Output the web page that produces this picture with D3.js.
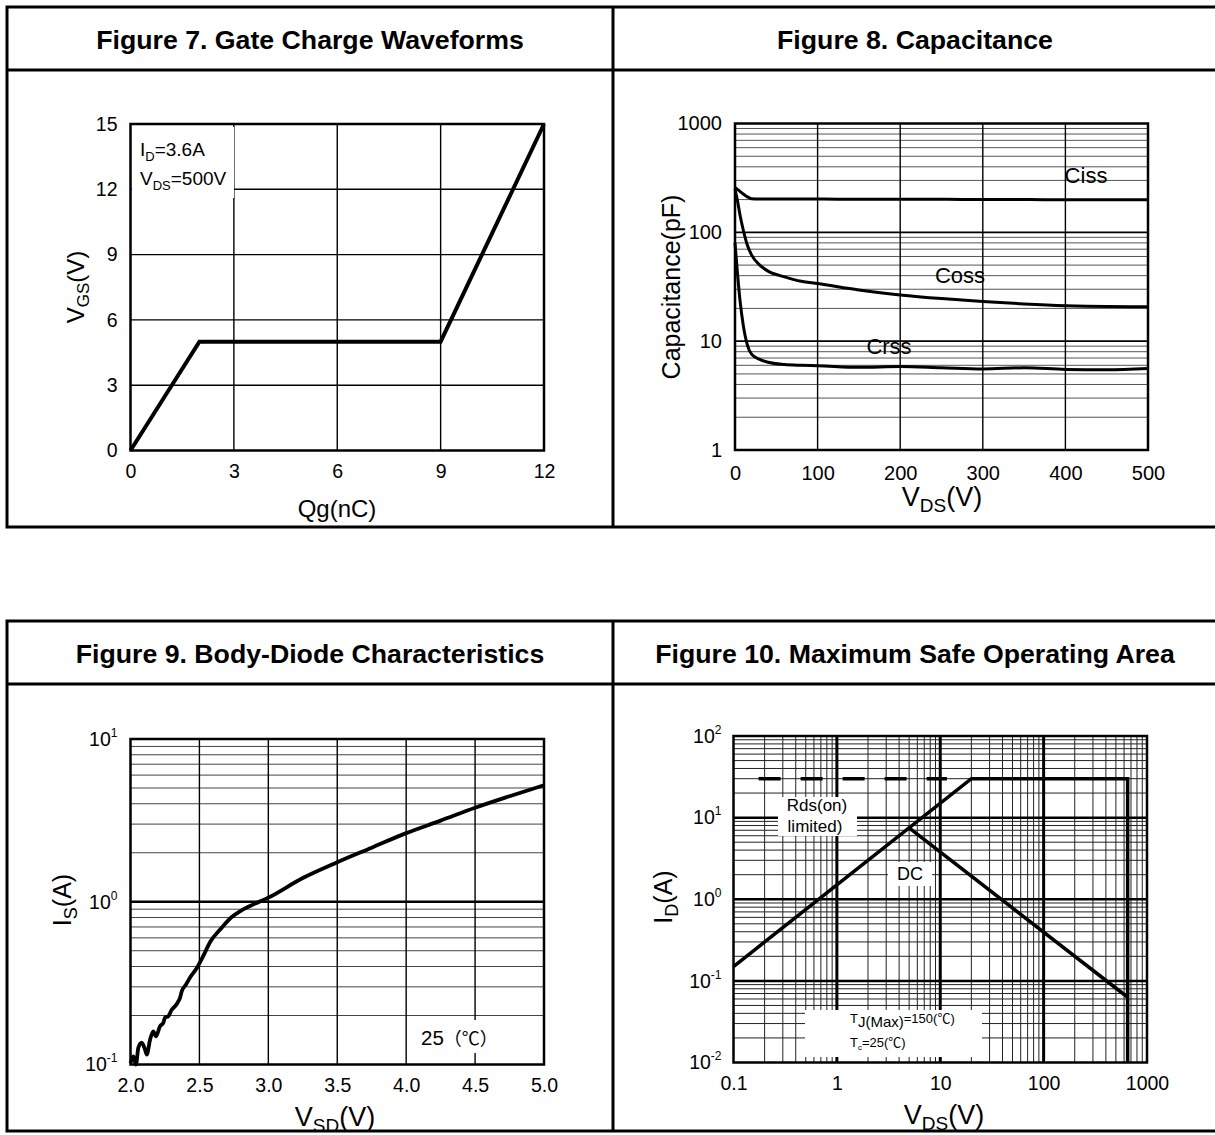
<!DOCTYPE html>
<html>
<head>
<meta charset="utf-8">
<script src="https://cdn.jsdelivr.net/npm/d3@7"></script>
<style>
  body { margin: 0; background: #fff; }
  svg { display: block; }
</style>
</head>
<body>
<svg id="chart" width="1215" height="1135"></svg>
<script>
// panel titles
const figureTitles = [
    "Figure 7. Gate Charge Waveforms",
    "Figure 8. Capacitance",
    "Figure 9. Body-Diode Characteristics",
    "Figure 10. Maximum Safe Operating Area"
];

// figure 7: gate charge
const gateQ = [0, 2, 9, 12];
const gateV = [0, 5, 5, 15];
const gateXTicks = [0, 3, 6, 9, 12];
const gateYTicks = [0, 3, 6, 9, 12, 15];

// figure 8: capacitance vs vds
const capVds = [0, 3, 6, 10, 15, 20, 30, 40, 60, 80, 100, 150, 200, 250, 300, 350, 400, 450, 500];
const ciss = [258, 248, 238, 225, 212, 204, 202, 202, 202, 202, 202, 201, 201, 201, 200, 200, 199, 199, 199];
const coss = [250, 195, 145, 105, 76, 62, 50, 44, 39, 35.5, 33.8, 29.5, 26.6, 24.6, 23.1, 22, 21.2, 20.8, 20.7];
const crss = [80, 42, 24, 14, 9.2, 7.6, 6.8, 6.4, 6.1, 6.0, 5.95, 5.75, 5.85, 5.7, 5.55, 5.7, 5.5, 5.45, 5.6];
const capXTicks = [0, 100, 200, 300, 400, 500];
const capYTicks = [1, 10, 100, 1000];

// figure 9: body diode
const diodeV = [2.0, 2.02, 2.04, 2.057, 2.081, 2.105, 2.118, 2.142, 2.165, 2.185, 2.214, 2.238, 2.25, 2.274,
    2.299, 2.323, 2.34, 2.359, 2.372, 2.403, 2.43, 2.48, 2.52, 2.58, 2.66, 2.73, 2.8, 2.9, 3.0, 3.25, 3.5,
    3.75, 4.0, 4.25, 4.5, 4.75, 5.0];
const diodeI = [0.102, 0.112, 0.1, 0.127, 0.136, 0.124, 0.115, 0.142, 0.16, 0.149, 0.172, 0.18, 0.194, 0.198,
    0.217, 0.228, 0.239, 0.257, 0.282, 0.31, 0.34, 0.39, 0.45, 0.57, 0.69, 0.8, 0.88, 0.97, 1.06, 1.4, 1.75,
    2.15, 2.64, 3.15, 3.78, 4.45, 5.2];
const diodeXTicks = [2.0, 2.5, 3.0, 3.5, 4.0, 4.5, 5.0];
const diodeYExp = [-1, 0, 1];

// figure 10: safe operating area
const soaV = [0.1, 20, 650, 650];
const soaI = [0.15, 30, 30, 0.01];
const dcV = [5, 650];
const dcI = [7.5, 0.063];
const rdsV = [0.175, 11.6];
const rdsI = [30, 30];
const soaXTicks = [0.1, 1, 10, 100, 1000];
const soaYExp = [-2, -1, 0, 1, 2];

const FONT = '"Liberation Sans", Arial, Helvetica, sans-serif';
const CJK = '"Noto Sans CJK SC", "Liberation Sans", sans-serif';
const svg = d3.select("#chart").attr("font-family", FONT);

// minor log grid values (2..9 per decade)
function logMinor(lo, hi) {
    const out = [];
    for (let d = Math.round(Math.log10(lo)); d < Math.round(Math.log10(hi)); d++) {
        for (let k = 2; k <= 9; k++) out.push(k * Math.pow(10, d));
    }
    return out;
}

// text made of parts [text, size, dy, family]
function richText(g, x, y, parts, opts = {}) {
    const t = g.append("text")
        .attr("x", x).attr("y", y)
        .attr("text-anchor", opts.anchor || "middle")
        .attr("fill", "#000");
    if (opts.rotate) t.attr("transform", `rotate(-90,${x},${y})`);
    parts.forEach(p => {
        const s = t.append("tspan").attr("font-size", p[1]).text(p[0]);
        if (p[2]) s.attr("dy", p[2]);
        if (p[3]) s.attr("font-family", p[3]);
    });
    return t;
}

function styleAxis(g, size) {
    g.select(".domain").remove();
    g.selectAll(".tick line").remove();
    g.selectAll("text").attr("font-size", size).attr("font-family", FONT).attr("fill", "#000");
}

function powerLabels(g) {
    g.selectAll(".tick text").each(function (d) {
        const t = d3.select(this).text(null);
        t.append("tspan").text("10");
        t.append("tspan").attr("font-size", 12).attr("dy", "-0.75em").text(d);
    });
}

function hLines(g, y, vals, x0, x1, w, c) {
    g.selectAll(null).data(vals).enter().append("line")
        .attr("x1", x0).attr("x2", x1)
        .attr("y1", d => y(d)).attr("y2", d => y(d))
        .attr("stroke", c).attr("stroke-width", w);
}

function vLines(g, x, vals, y0, y1, w, c) {
    g.selectAll(null).data(vals).enter().append("line")
        .attr("y1", y0).attr("y2", y1)
        .attr("x1", d => x(d)).attr("x2", d => x(d))
        .attr("stroke", c).attr("stroke-width", w);
}

function whiteBox(g, x0, y0, x1, y1) {
    g.append("rect").attr("x", x0).attr("y", y0)
        .attr("width", x1 - x0).attr("height", y1 - y0).attr("fill", "#fff");
}

function border(g, x, y) {
    g.append("rect")
        .attr("x", x.range()[0]).attr("y", y.range()[1])
        .attr("width", x.range()[1] - x.range()[0])
        .attr("height", y.range()[0] - y.range()[1])
        .attr("fill", "none").attr("stroke", "#000").attr("stroke-width", 2.5);
}

// frames and titles
function frame(y0, y1, yHead, t1, t2, tY) {
    const g = svg.append("g");
    g.append("rect").attr("x", 7).attr("y", y0).attr("width", 1225).attr("height", y1 - y0)
        .attr("fill", "none").attr("stroke", "#000").attr("stroke-width", 3);
    g.append("line").attr("x1", 7).attr("x2", 1232).attr("y1", yHead).attr("y2", yHead)
        .attr("stroke", "#000").attr("stroke-width", 3);
    g.append("line").attr("x1", 613).attr("x2", 613).attr("y1", y0).attr("y2", y1)
        .attr("stroke", "#000").attr("stroke-width", 3);
    [[310, t1], [915, t2]].forEach(([cx, txt]) => {
        g.append("text").attr("x", cx).attr("y", tY)
            .attr("text-anchor", "middle").attr("font-size", 26.7).attr("font-weight", "bold")
            .text(txt);
    });
}
frame(7, 527, 70, figureTitles[0], figureTitles[1], 49);
frame(621, 1131, 684, figureTitles[2], figureTitles[3], 663);

// figure 7
(function () {
    const g = svg.append("g");
    const x = d3.scaleLinear().domain([0, 12]).range([130.5, 544]);
    const y = d3.scaleLinear().domain([0, 15]).range([450.5, 124]);
    vLines(g, x, [3, 6, 9], y(15), y(0), 1.4, "#000");
    hLines(g, y, [3, 6, 9, 12], x(0), x(12), 1.4, "#000");
    whiteBox(g, 132, 127, 234, 198);
    richText(g, 140, 156, [["I", 19], ["D", 13, 5], ["=3.6A", 19, -5]], { anchor: "start" });
    richText(g, 140, 185, [["V", 19], ["DS", 13, 5], ["=500V", 19, -5]], { anchor: "start" });
    border(g, x, y);
    g.append("path")
        .datum(d3.zip(gateQ, gateV))
        .attr("d", d3.line().x(d => x(d[0])).y(d => y(d[1])))
        .attr("fill", "none").attr("stroke", "#000").attr("stroke-width", 4)
        .attr("stroke-linejoin", "miter");
    const ax = g.append("g").attr("transform", `translate(0,${y(0)})`)
        .call(d3.axisBottom(x).tickValues(gateXTicks).tickSize(0).tickPadding(14));
    styleAxis(ax, 19.5);
    const ay = g.append("g").attr("transform", `translate(${x(0)},0)`)
        .call(d3.axisLeft(y).tickValues(gateYTicks).tickSize(0).tickPadding(13));
    styleAxis(ay, 19.5);
    richText(g, 337, 517, [["Qg(nC)", 24]]);
    richText(g, 84, 287, [["V", 24], ["GS", 17, 5], ["(V)", 24, -5]], { rotate: true });
})();

// figure 8
(function () {
    const g = svg.append("g");
    const x = d3.scaleLinear().domain([0, 500]).range([735, 1148]);
    const y = d3.scaleLog().domain([1, 1000]).range([450, 123.5]);
    hLines(g, y, logMinor(1, 1000), x(0), x(500), 1, "#555");
    hLines(g, y, [10, 100], x(0), x(500), 1.6, "#000");
    vLines(g, x, [100, 200, 300, 400], y(1000), y(1), 1.4, "#000");
    border(g, x, y);
    const line = d3.line().x(d => x(d[0])).y(d => y(d[1])).curve(d3.curveMonotoneX);
    [ciss, coss, crss].forEach(s => {
        g.append("path").datum(d3.zip(capVds, s)).attr("d", line)
            .attr("fill", "none").attr("stroke", "#000").attr("stroke-width", 3);
    });
    richText(g, 1086, 183, [["Ciss", 22]]);
    richText(g, 960, 283, [["Coss", 22]]);
    richText(g, 889, 354, [["Crss", 22]]);
    const ax = g.append("g").attr("transform", `translate(0,${y(1)})`)
        .call(d3.axisBottom(x).tickValues(capXTicks).tickSize(0).tickPadding(16));
    styleAxis(ax, 20);
    const ay = g.append("g").attr("transform", `translate(${x(0)},0)`)
        .call(d3.axisLeft(y).tickValues(capYTicks).tickFormat(d3.format("d")).tickSize(0).tickPadding(13));
    styleAxis(ay, 20);
    richText(g, 942, 506, [["V", 27], ["DS", 19, 6], ["(V)", 27, -6]]);
    richText(g, 680, 287, [["Capacitance(pF)", 25]], { rotate: true });
})();

// figure 9
(function () {
    const g = svg.append("g");
    const x = d3.scaleLinear().domain([2, 5]).range([130.5, 544]);
    const y = d3.scaleLog().domain([0.1, 10]).range([1064.5, 739]);
    hLines(g, y, logMinor(0.1, 10), x(2), x(5), 1, "#444");
    hLines(g, y, [1], x(2), x(5), 2.5, "#000");
    vLines(g, x, [2.5, 3.0, 3.5, 4.0, 4.5], y(10), y(0.1), 1.4, "#000");
    whiteBox(g, 410, 1020, 505, 1053);
    richText(g, 421, 1045, [["25", 20.5], ["（℃）", 18, 0, CJK]], { anchor: "start" });
    border(g, x, y);
    g.append("path").datum(d3.zip(diodeV, diodeI))
        .attr("d", d3.line().x(d => x(d[0])).y(d => y(d[1])).curve(d3.curveMonotoneX))
        .attr("fill", "none").attr("stroke", "#000").attr("stroke-width", 3.8)
        .attr("stroke-linejoin", "round");
    const ax = g.append("g").attr("transform", `translate(0,${y(0.1)})`)
        .call(d3.axisBottom(x).tickValues(diodeXTicks).tickFormat(d3.format(".1f")).tickSize(0).tickPadding(14));
    styleAxis(ax, 19.5);
    const yExp = d3.scaleLinear().domain([-1, 1]).range([y(0.1), y(10)]);
    const ay = g.append("g").attr("transform", `translate(${x(2)},0)`)
        .call(d3.axisLeft(yExp).tickValues(diodeYExp).tickFormat(d => d).tickSize(0).tickPadding(13));
    styleAxis(ay, 19.5);
    powerLabels(ay);
    richText(g, 335, 1126, [["V", 27], ["SD", 19, 6], ["(V)", 27, -6]]);
    richText(g, 71, 900, [["I", 25], ["S", 18, 6], ["(A)", 25, -6]], { rotate: true });
})();

// figure 10
(function () {
    const g = svg.append("g");
    const x = d3.scaleLog().domain([0.1, 1000]).range([733.5, 1147]);
    const y = d3.scaleLog().domain([0.01, 100]).range([1062.5, 736]);
    hLines(g, y, logMinor(0.01, 100), x(0.1), x(1000), 1, "#222");
    vLines(g, x, logMinor(0.1, 1000), y(100), y(0.01), 1, "#222");
    hLines(g, y, [0.1, 1, 10], x(0.1), x(1000), 2.5, "#000");
    vLines(g, x, [1, 10, 100], y(100), y(0.01), 3, "#000");
    whiteBox(g, 778, 797, 857, 836);
    whiteBox(g, 888, 862, 932, 886);
    whiteBox(g, 805, 1010, 982, 1057);
    border(g, x, y);
    const line = d3.line().x(d => x(d[0])).y(d => y(d[1]));
    g.append("path").datum(d3.zip(rdsV, rdsI)).attr("d", line)
        .attr("fill", "none").attr("stroke", "#000").attr("stroke-width", 3.5)
        .attr("stroke-dasharray", "22,20");
    g.append("path").datum(d3.zip(soaV, soaI)).attr("d", line)
        .attr("fill", "none").attr("stroke", "#000").attr("stroke-width", 3.5);
    g.append("path").datum(d3.zip(dcV, dcI)).attr("d", line)
        .attr("fill", "none").attr("stroke", "#000").attr("stroke-width", 3.5);
    richText(g, 817, 811, [["Rds(on)", 17]]);
    richText(g, 815, 832, [["limited)", 17]]);
    richText(g, 910, 880, [["DC", 18]]);
    richText(g, 850, 1023, [["T", 13], ["J(Max)", 15, 4], ["=150(", 13, -4], ["℃", 13, 0, CJK], [")", 13]], { anchor: "start" });
    richText(g, 850, 1047, [["T", 13], ["c", 8, 3], ["=25(", 13, -3], ["℃", 13, 0, CJK], [")", 13]], { anchor: "start" });
    const ax = g.append("g").attr("transform", `translate(0,${y(0.01)})`)
        .call(d3.axisBottom(x).tickValues(soaXTicks).tickFormat(d => String(d)).tickSize(0).tickPadding(14));
    styleAxis(ax, 19.5);
    const yExp = d3.scaleLinear().domain([-2, 2]).range([y(0.01), y(100)]);
    const ay = g.append("g").attr("transform", `translate(${x(0.1)},0)`)
        .call(d3.axisLeft(yExp).tickValues(soaYExp).tickFormat(d => d).tickSize(0).tickPadding(12));
    styleAxis(ay, 19.5);
    powerLabels(ay);
    richText(g, 944, 1124, [["V", 27], ["DS", 19, 6], ["(V)", 27, -6]]);
    richText(g, 672, 897, [["I", 25], ["D", 18, 6], ["(A)", 25, -6]], { rotate: true });
})();
</script>
</body>
</html>
